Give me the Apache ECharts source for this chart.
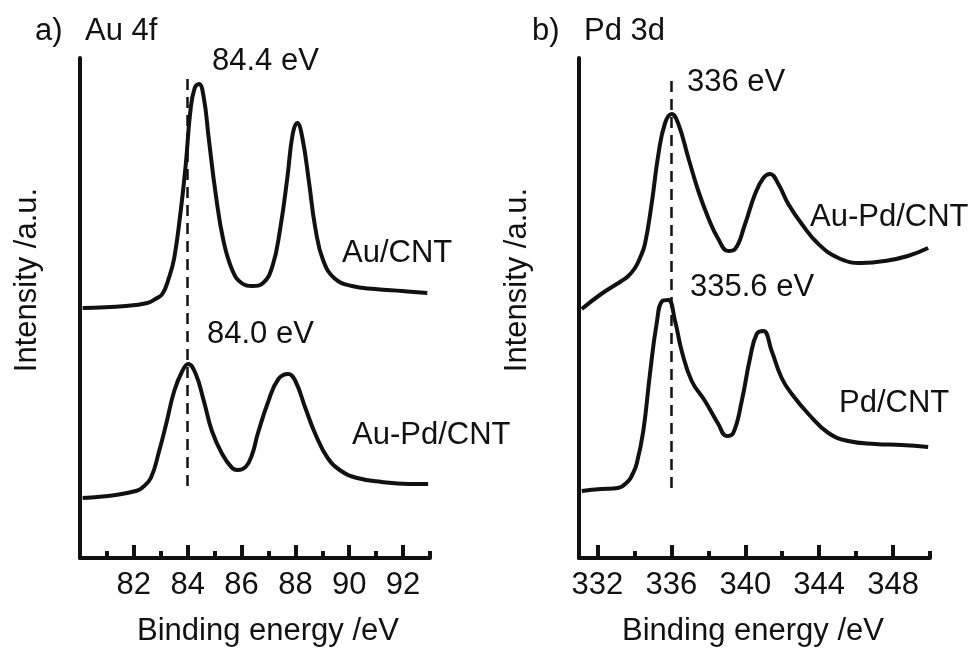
<!DOCTYPE html>
<html>
<head>
<meta charset="utf-8">
<script src="https://cdn.jsdelivr.net/npm/echarts@6/dist/echarts.min.js"></script>
<style>
    html, body { margin: 0; padding: 0; background: #fff; }
    .xps { width: 977px; height: 654px; }
</style>
</head>
<body>
<div class="xps"></div>
<script>
// 数据 (a) Au 4f
let auCntEnergy = [80.1, 81.7, 82.5, 82.8, 83.06, 83.3, 83.5, 83.74, 83.93, 84.1, 84.26, 84.42, 84.6, 84.78, 85.04, 85.33, 85.67, 86.0, 86.4, 86.8, 87.15, 87.44, 87.7, 87.9, 88.07, 88.26, 88.5, 88.74, 89.04, 89.48, 90.1, 90.96, 91.96, 92.9];
let auCntIntensity = [250, 252, 255, 259, 264, 280, 300, 347, 394, 447, 470, 474, 460, 420, 364, 317, 287, 275, 272, 275, 292, 330, 380, 424, 435, 420, 377, 330, 297, 279, 272, 269, 267, 265];
let auPdAuEnergy = [80.1, 81.33, 82.07, 82.3, 82.63, 82.94, 83.2, 83.5, 83.8, 84.02, 84.3, 84.6, 84.9, 85.28, 85.65, 85.85, 86.15, 86.4, 86.6, 87.0, 87.37, 87.74, 88.0, 88.37, 88.74, 89.2, 89.7, 90.3, 91.2, 92.2, 92.93];
let auPdAuIntensity = [60, 63, 67, 70, 80, 107, 134, 167, 187, 194, 184, 157, 127, 104, 90, 88, 91, 104, 124, 157, 179, 184, 177, 150, 124, 100, 87, 80, 76, 74, 74];
// 数据 (b) Pd 3d
let auPdPdEnergy = [331.15, 332.2, 333.3, 333.67, 334.03, 334.3, 334.57, 334.93, 335.3, 335.66, 336.02, 336.38, 336.92, 337.46, 338.0, 338.54, 339.08, 339.45, 339.99, 340.53, 340.98, 341.34, 341.79, 342.33, 343.06, 343.96, 345.04, 346.3, 347.57, 348.8, 349.9];
let auPdPdIntensity = [249, 264, 277, 282, 290, 300, 314, 354, 404, 435, 444, 434, 400, 367, 340, 319, 307, 309, 334, 364, 380, 384, 374, 354, 334, 314, 300, 295, 297, 302, 310];
let pdCntEnergy = [331.15, 332.2, 333.1, 333.67, 333.9, 334.12, 334.48, 334.84, 335.2, 335.51, 335.83, 336.2, 336.56, 337.1, 337.82, 338.54, 338.99, 339.35, 339.81, 340.26, 340.62, 340.98, 341.43, 341.97, 342.52, 343.42, 344.5, 345.58, 347.03, 348.47, 349.9];
let pdCntIntensity = [67, 69, 70, 77, 84, 94, 127, 184, 234, 257, 258, 237, 207, 177, 157, 134, 122, 125, 157, 200, 224, 227, 207, 180, 164, 144, 125, 117, 114, 113, 111];

// 刻度
let auMajorTicks = [82, 84, 86, 88, 90, 92];
let auMinorTicks = [81, 83, 85, 87, 89, 91, 93];
let pdMajorTicks = [332, 336, 340, 344, 348];
let pdMinorTicks = [334, 338, 342, 346, 350];

// 虚线 [x, 上端, 下端]
let auDash = [84, 479, 70];
let pdDash = [336, 477, 70];

(function() {
    let chartDom = document.querySelector('.xps');
    let myChart = echarts.init(chartDom);
    let font = 'Liberation Sans, Arial, sans-serif';
    let ink = '#111';

    function pairs(xs, ys) {
        return xs.map(function(x, i) { return [x, ys[i]]; });
    }

    function bottomAxes(gridIndex, min, max, major, minor) {
        return [{
                type: 'value',
                gridIndex: gridIndex,
                min: min,
                max: max,
                position: 'bottom',
                axisLine: { lineStyle: { color: ink, width: 4 } },
                axisTick: { inside: true, length: 13, customValues: major, lineStyle: { color: ink, width: 4 } },
                axisLabel: { customValues: major, color: ink, fontSize: 31, fontFamily: font, margin: 12 },
                splitLine: { show: false }
            },
            {
                type: 'value',
                gridIndex: gridIndex,
                min: min,
                max: max,
                position: 'bottom',
                offset: 0,
                axisLine: { show: false },
                axisTick: { inside: true, length: 7, customValues: minor, lineStyle: { color: ink, width: 4 } },
                axisLabel: { show: false },
                splitLine: { show: false }
            }
        ];
    }

    function yAxis(gridIndex) {
        return {
            type: 'value',
            gridIndex: gridIndex,
            min: 0,
            max: 500,
            axisLine: { show: true, lineStyle: { color: ink, width: 4 } },
            axisTick: { show: false },
            axisLabel: { show: false },
            splitLine: { show: false }
        };
    }

    function curve(xIndex, yIndex, data, dash) {
        let s = {
            type: 'line',
            xAxisIndex: xIndex,
            yAxisIndex: yIndex,
            data: data,
            smooth: 0.45,
            showSymbol: false,
            lineStyle: { color: ink, width: 4 }
        };
        if (dash) {
            s.markLine = {
                silent: true,
                symbol: ['none', 'none'],
                label: { show: false },
                lineStyle: { color: ink, width: 2.5, type: [11, 7] },
                data: [[{ coord: [dash[0], dash[1]] }, { coord: [dash[0], dash[2]] }]]
            };
        }
        return s;
    }

    function txt(x, y, text, align, rotation) {
        return {
            type: 'text',
            x: x,
            y: y,
            rotation: rotation || 0,
            style: {
                text: text,
                fill: ink,
                font: '31px ' + font,
                align: align || 'left',
                verticalAlign: 'middle'
            }
        };
    }

    let option = {
        animation: false,
        backgroundColor: '#fff',
        grid: [
            { left: 80, top: 58, width: 350, height: 500 },
            { left: 579, top: 58, width: 351, height: 500 }
        ],
        xAxis: bottomAxes(0, 80, 93, auMajorTicks, auMinorTicks)
            .concat(bottomAxes(1, 331, 350, pdMajorTicks, pdMinorTicks)),
        yAxis: [yAxis(0), yAxis(1)],
        series: [
            curve(0, 0, pairs(auCntEnergy, auCntIntensity), auDash),
            curve(0, 0, pairs(auPdAuEnergy, auPdAuIntensity)),
            curve(2, 1, pairs(auPdPdEnergy, auPdPdIntensity), pdDash),
            curve(2, 1, pairs(pdCntEnergy, pdCntIntensity))
        ],
        graphic: [
            txt(35, 31, 'a)'),
            txt(85, 31, 'Au 4f', 'left'),
            txt(212, 61, '84.4 eV'),
            txt(342, 253, 'Au/CNT'),
            txt(207, 334, '84.0 eV'),
            txt(352, 435, 'Au-Pd/CNT'),
            txt(532, 31, 'b)'),
            txt(584, 31, 'Pd 3d'),
            txt(687, 82, '336 eV'),
            txt(810, 217, 'Au-Pd/CNT'),
            txt(690, 287, '335.6 eV'),
            txt(839, 403, 'Pd/CNT'),
            txt(27, 280, 'Intensity /a.u.', 'center', Math.PI / 2),
            txt(517, 280, 'Intensity /a.u.', 'center', Math.PI / 2),
            txt(268, 631, 'Binding energy /eV', 'center'),
            txt(753, 631, 'Binding energy /eV', 'center')
        ]
    };
    myChart.setOption(option);
    window.addEventListener("resize", function() {
        myChart.resize();
    })
})();
</script>
</body>
</html>
